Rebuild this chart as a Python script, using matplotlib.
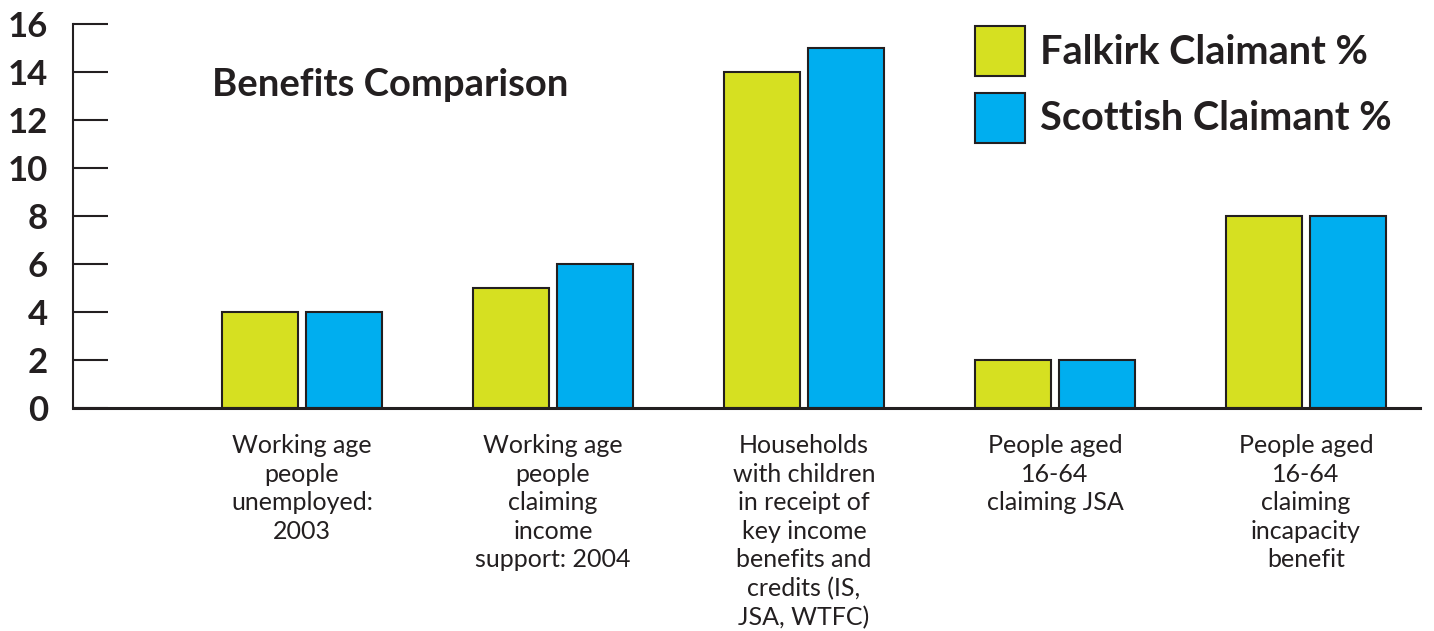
import numpy as np
import matplotlib.pyplot as plt
from matplotlib.patches import Rectangle

# Datos del gráfico
categorias = [
    "Working age\npeople\nunemployed:\n2003",
    "Working age\npeople\nclaiming\nincome\nsupport: 2004",
    "Households\nwith children\nin receipt of\nkey income\nbenefits and\ncredits (IS,\nJSA, WTFC)",
    "People aged\n16-64\nclaiming JSA",
    "People aged\n16-64\nclaiming\nincapacity\nbenefit",
]
falkirk = [4, 5, 14, 2, 8]
escocia = [4, 6, 15, 2, 8]
ticks_y = [0, 2, 4, 6, 8, 10, 12, 14, 16]
series = ['Falkirk Claimant %', 'Scottish Claimant %']
colores = ['#D6E021', '#00AEEF']

color_texto = '#231F20'
plt.rcParams['font.family'] = ['Lato', 'DejaVu Sans']

W, H = 1434, 631
fig = plt.figure(figsize=(W / 100, H / 100), dpi=100)
ax = fig.add_axes([73 / W, 1 - 408 / H, (1420 - 73) / W, (408 - 24) / H])

x = np.arange(len(categorias))
ancho = 0.303
desp = 0.167
ax.bar(x - desp, falkirk, ancho, color=colores[0], edgecolor=color_texto, linewidth=1.5)
ax.bar(x + desp, escocia, ancho, color=colores[1], edgecolor=color_texto, linewidth=1.5)

ax.set_xlim(-0.912, 4.454)
ax.set_ylim(0, 16)
ax.set_yticks(ticks_y)
ax.set_yticklabels([str(t) for t in ticks_y], fontsize=25, fontweight='bold', color=color_texto)
ax.tick_params(axis='y', direction='in', length=25, width=1.5, pad=18, color=color_texto)
ax.set_xticks(x)
ax.set_xticklabels(categorias, fontsize=18, color=color_texto, linespacing=1.29, va='top')
ax.tick_params(axis='x', length=0, pad=19)

for lado in ['top', 'right']:
    ax.spines[lado].set_visible(False)
ax.spines['left'].set_linewidth(1.5)
ax.spines['bottom'].set_linewidth(2.2)
ax.spines['left'].set_color(color_texto)
ax.spines['bottom'].set_color(color_texto)

ax.text(-0.359, 13.46, 'Benefits Comparison', fontsize=27.5, fontweight='bold',
        color=color_texto, va='center', ha='left')

# Leyenda dibujada a mano
for i, (nombre, col) in enumerate(zip(series, colores)):
    y0 = 26 + i * 67
    fig.add_artist(Rectangle((975 / W, 1 - (y0 + 50) / H), 50 / W, 50 / H,
                             transform=fig.transFigure, facecolor=col,
                             edgecolor=color_texto, linewidth=1.5))
    fig.text(1040 / W, 1 - (y0 + 26) / H, nombre, fontsize=28.5, fontweight='bold',
             color=color_texto, va='center', ha='left')

fig.savefig('out.png', dpi=100)
